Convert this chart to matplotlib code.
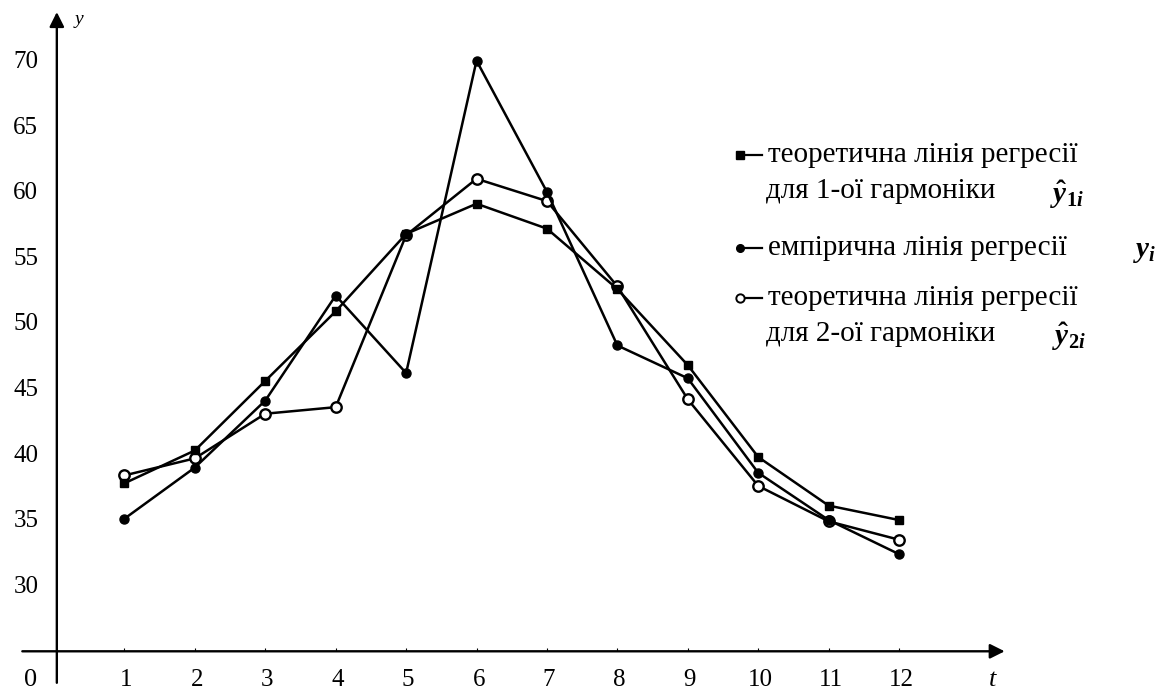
import matplotlib
matplotlib.use("Agg")
import matplotlib.pyplot as plt
from matplotlib.lines import Line2D

plt.rcParams['font.family'] = ['Liberation Serif', 'DejaVu Serif']
plt.rcParams['mathtext.fontset'] = 'custom'
plt.rcParams['mathtext.it'] = 'Liberation Serif:italic:bold'
plt.rcParams['mathtext.rm'] = 'Liberation Serif:bold'
plt.rcParams['mathtext.bf'] = 'Liberation Serif:bold'

# Data
t = [1, 2, 3, 4, 5, 6, 7, 8, 9, 10, 11, 12]
y_emp = [35.2, 39.1, 44.2, 52.2, 46.3, 70.1, 60.1, 48.4, 45.9, 38.7, 35.1, 32.5]
y_h1 = [37.9, 40.4, 45.7, 51.0, 56.9, 59.2, 57.3, 52.7, 46.9, 39.9, 36.2, 35.1]
y_h2 = [38.5, 39.8, 43.2, 43.7, 56.8, 61.1, 59.4, 52.9, 44.3, 37.7, 35.0, 33.6]
y_ticks = [30, 35, 40, 45, 50, 55, 60, 65, 70]

labels = [
    ("теоретична лінія регресії", "для 1-ої гармоніки", r"$\hat{y}_{1i}$"),
    ("емпірична лінія регресії", None, r"$y_i$"),
    ("теоретична лінія регресії", "для 2-ої гармоніки", r"$\hat{y}_{2i}$"),
]

W, H = 1161, 695
fig = plt.figure(figsize=(W / 100, H / 100), dpi=100)
ax = fig.add_axes([0, 0, 1, 1])
ax.set_xlim(-0.767, 15.72)
ax.set_ylim(21.77, 74.72)
ax.axis('off')

# axes with arrows (origin labelled 0, y axis broken below 30)
x_base = 25.1
arr = dict(arrowstyle='-|>', lw=1.7, color='black', mutation_scale=22,
           shrinkA=0, shrinkB=0)
ax.annotate('', xy=(13.5, x_base), xytext=(-0.45, x_base), arrowprops=arr)
ax.annotate('', xy=(0.04, 73.8), xytext=(0.04, 22.7), arrowprops=arr)
ax.vlines(t, x_base, x_base + 0.25, color='black', lw=0.8)

for v in y_ticks:
    ax.text(-0.40, v, str(v), ha='center', va='center', fontsize=18)
for ti in t:
    ax.text(ti + 0.03, 22.9, str(ti), ha='center', va='center', fontsize=18)
ax.text(-0.33, 22.9, "0", ha='center', va='center', fontsize=19)
ax.text(13.33, 22.9, "t", ha='center', va='center', fontsize=19, style='italic')
ax.text(0.36, 73.2, "y", ha='center', va='center', fontsize=14, style='italic')

lw = 1.8
ax.plot(t, y_h2, color='black', lw=lw, marker='o', ms=7.5,
        mfc='white', mec='black', mew=1.7, zorder=3)
ax.plot(t, y_emp, color='black', lw=lw, marker='o', ms=6.5, zorder=4)
ax.plot(t, y_h1, color='black', lw=lw, marker='s', ms=6, zorder=5)

# hand-made legend
def fx(px):
    return px / W

def fy(py):
    return 1 - py / H

keys = [dict(marker='s', ms=5.5, mfc='black'),
        dict(marker='o', ms=5.5, mfc='black'),
        dict(marker='o', ms=6, mfc='white', mew=1.4)]
key_y = [155, 248, 298]
text_y = [(162, 198), (255, None), (305, 341)]
math_pos = [(1050, 203), (1133, 257), (1052, 345)]

for k, ky, (y1, y2), (mx, my), (l1, l2, m) in zip(keys, key_y, text_y, math_pos, labels):
    fig.add_artist(Line2D([fx(740), fx(762)], [fy(ky), fy(ky)], color='black',
                          lw=1.6, markevery=[0], mec='black', **k))
    fig.text(fx(768), fy(y1), l1, fontsize=21, va='baseline', ha='left')
    if l2:
        fig.text(fx(766), fy(y2), l2, fontsize=21, va='baseline', ha='left')
    fig.text(fx(mx), fy(my), m, fontsize=21, va='baseline', ha='left')

fig.savefig("out.png", dpi=100)
